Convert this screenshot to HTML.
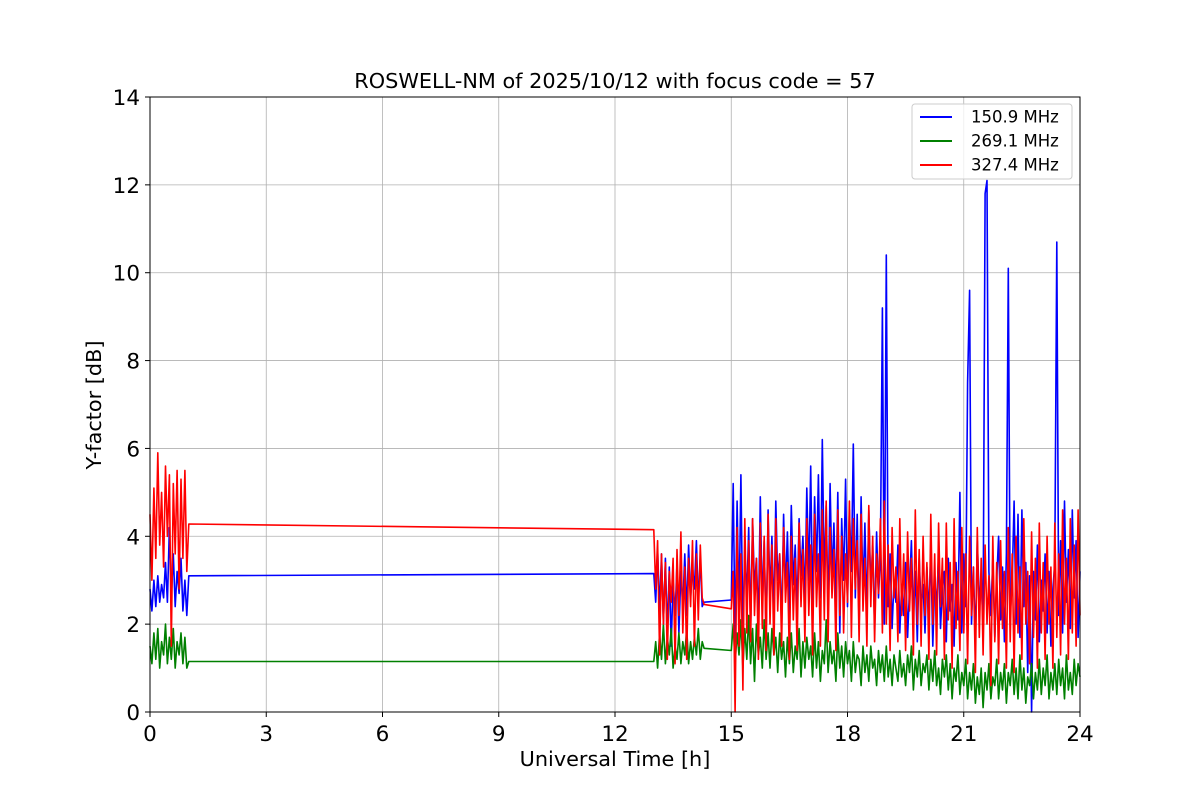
<!DOCTYPE html>
<html><head><meta charset="utf-8"><style>
body{margin:0;background:#fff;font-family:"DejaVu Sans","Liberation Sans",sans-serif}
</style></head><body>
<svg id="chart" width="1200" height="800" xmlns="http://www.w3.org/2000/svg" font-family="DejaVu Sans, Liberation Sans, sans-serif">
<rect width="1200" height="800" fill="#fff"/>
<g id="grid"></g>
<g id="series"></g>
<rect x="150" y="97" width="930" height="615" fill="none" stroke="#000" stroke-width="1"/>
<g id="ticks"></g>
<text x="615" y="88" text-anchor="middle" font-size="20.8">ROSWELL-NM of 2025/10/12 with focus code = 57</text>
<text x="615" y="766" text-anchor="middle" font-size="20.8">Universal Time [h]</text>
<text transform="translate(101,405) rotate(-90)" text-anchor="middle" font-size="20.8">Y-factor [dB]</text>
<g>
<rect x="912" y="104" width="160" height="75" rx="3" fill="#fff" fill-opacity="0.8" stroke="#ccc"/>
<g><line x1="920" y1="117" x2="952" y2="117" stroke="blue" stroke-width="2"/><text x="971" y="122.5" font-size="16.5">150.9 MHz</text></g>
<g><line x1="920" y1="141" x2="952" y2="141" stroke="green" stroke-width="2"/><text x="971" y="146.5" font-size="16.5">269.1 MHz</text></g>
<g><line x1="920" y1="165" x2="952" y2="165" stroke="red" stroke-width="2"/><text x="971" y="170.5" font-size="16.5">327.4 MHz</text></g>
</g>
</svg>
<script>
const xTicks=[0,3,6,9,12,15,18,21,24];
const yTicks=[0,2,4,6,8,10,12,14];
const segStarts=[0,13,15];
const segStep=0.05;
const blueA=[2.8,2.3,3.0,2.4,3.1,2.5,2.9,2.6,3.4,2.5,4.2,2.6,3.6,2.4,3.2,2.7,3.5,2.3,3.0,2.2,3.1];
const greenA=[1.5,1.1,1.8,1.2,1.9,1.0,1.6,1.3,2.0,1.1,1.7,1.2,1.9,1.0,1.6,1.3,1.8,1.1,1.7,1.0,1.15];
const redA=[4.5,3.0,5.1,3.5,5.9,3.8,5.0,3.3,5.6,4.0,5.4,1.5,5.2,3.6,5.5,2.8,5.3,3.5,5.5,3.2,4.28];
const blueB=[3.15,2.5,3.7,2.3,3.6,2.0,3.5,1.8,3.3,1.5,3.0,2.2,3.4,1.8,3.2,2.4,3.6,2.2,3.8,2.6,3.3,2.8,3.9,2.5,3.5,2.4,2.5];
const greenB=[1.15,1.6,1.0,1.8,1.2,2.0,1.1,1.7,1.3,1.9,1.0,1.5,1.2,1.8,1.1,1.6,1.3,1.9,1.1,1.6,1.2,1.7,1.3,1.9,1.2,1.6,1.45];
const redB=[4.15,2.8,3.9,1.3,3.6,2.0,3.4,1.2,3.2,2.5,3.5,1.1,3.7,2.2,4.1,1.8,3.3,1.2,3.5,2.4,3.9,1.5,3.6,2.1,3.8,2.6,2.45];
const blueC=[2.55,5.2,1.6,4.8,2.2,5.4,1.8,3.7,2.6,4.2,
1.9,4.4,2.8,3.5,2.0,4.9,2.4,3.9,1.7,4.6,
2.6,4.0,2.1,4.8,3.0,3.6,1.9,4.5,2.7,4.1,
2.2,4.7,2.9,3.8,2.3,4.4,3.1,4.0,2.5,5.1,
3.0,5.6,2.4,4.9,3.2,5.4,2.6,6.2,3.0,4.7,
2.2,5.2,3.0,4.3,2.5,5.0,1.8,4.4,3.0,5.3,
2.4,4.6,3.2,6.1,2.6,4.5,1.9,4.9,2.7,4.3,
2.2,4.6,2.8,3.8,1.9,4.1,2.6,3.6,9.2,2.0,
10.4,2.4,3.6,1.9,3.0,2.5,3.8,1.8,2.9,2.2,
3.4,1.7,2.8,3.9,2.1,3.2,1.6,3.5,2.4,2.9,
1.8,3.3,2.2,3.7,1.5,3.0,2.4,3.6,1.9,2.8,
3.2,1.6,3.5,2.3,2.9,1.5,3.4,2.1,5.0,1.8,
3.6,2.4,7.5,9.6,2.0,3.3,1.6,3.9,2.5,3.0,
2.0,11.8,12.1,3.2,2.2,3.5,1.7,3.0,4.0,2.1,
3.3,1.6,3.6,10.1,2.2,3.0,4.8,2.0,4.5,1.7,
4.6,2.4,3.4,0.9,3.1,0.0,3.2,2.1,3.8,1.6,
3.0,2.3,3.6,1.8,3.2,1.5,2.8,3.4,10.7,2.2,
3.9,1.8,4.8,2.5,3.7,1.9,4.6,2.6,3.9,1.7,3.2];
const greenC=[1.4,2.0,1.1,1.8,1.3,2.1,1.0,1.9,1.2,2.2,
1.1,1.9,0.7,2.0,1.3,1.7,1.0,2.1,1.2,1.8,
1.0,1.9,1.3,1.7,0.9,1.8,1.2,1.6,0.8,1.7,
1.1,1.8,0.9,1.5,1.2,1.9,0.8,1.6,1.0,1.7,
1.2,1.5,0.8,1.8,1.0,1.6,0.7,1.4,1.1,2.1,
0.9,1.6,1.1,1.4,0.7,1.8,1.0,1.5,0.8,1.6,
1.1,1.4,0.7,1.6,0.9,1.3,1.2,0.6,1.5,0.9,
1.3,0.7,1.5,1.0,1.2,0.6,1.4,0.9,1.3,0.7,
1.5,0.8,1.2,0.6,1.3,1.0,0.7,1.4,0.8,1.1,
0.6,1.3,0.9,1.5,0.5,1.2,0.8,1.4,0.6,1.1,
0.9,1.3,0.5,1.2,0.7,1.4,0.6,1.0,0.4,1.2,
0.8,1.3,0.5,1.1,0.3,1.0,0.7,1.3,0.4,0.9,
0.6,1.2,0.3,0.9,0.5,1.1,0.2,0.8,0.4,1.0,
0.1,0.9,0.5,1.1,0.3,0.8,0.6,1.2,0.3,0.9,
0.5,1.1,0.2,0.9,0.6,1.2,0.4,1.0,0.3,1.3,
0.5,1.0,0.2,0.8,0.6,1.1,0.3,0.9,0.5,1.2,
0.4,1.0,0.6,1.3,0.3,0.9,0.5,1.1,0.4,1.2,
0.6,1.0,0.3,1.3,0.5,0.9,0.4,1.2,0.6,1.1,0.8];
const redC=[2.35,3.2,0.0,4.2,1.5,3.6,0.5,4.4,1.8,3.9,
1.6,4.4,2.2,3.5,1.2,4.3,1.9,4.0,1.4,4.5,
2.0,3.8,1.3,4.4,2.3,3.6,1.5,4.2,2.5,3.4,
1.2,4.0,2.1,3.5,1.4,4.3,2.4,3.7,1.6,4.4,
2.2,3.8,1.3,4.5,2.4,3.6,1.5,4.6,2.1,4.8,
1.6,4.2,2.6,3.7,1.4,4.6,2.2,4.0,1.8,3.6,
2.5,4.8,1.7,4.4,2.8,3.9,1.6,4.5,2.3,3.5,
1.5,4.7,2.4,4.0,1.6,3.6,2.7,4.4,1.8,4.8,
2.0,3.8,1.4,4.2,2.6,3.3,1.6,4.4,2.2,3.6,
1.4,4.1,2.3,3.5,1.3,4.6,2.0,3.7,1.5,4.0,
2.2,3.4,1.2,4.5,2.0,3.6,1.3,4.3,2.4,3.5,
1.2,4.3,2.1,3.4,1.0,4.4,1.9,3.2,1.4,4.2,
1.8,3.6,1.1,4.0,2.2,3.3,0.9,4.2,1.7,3.5,
1.3,3.8,2.0,3.1,0.6,4.0,1.6,3.4,1.1,3.9,
1.9,3.2,1.0,4.2,1.6,3.6,0.9,4.0,1.8,3.3,
1.2,4.4,2.0,3.2,1.1,4.1,1.7,3.5,1.0,4.3,
1.8,3.4,1.2,4.0,2.0,3.3,1.0,4.3,1.7,3.6,
1.3,4.6,2.0,3.5,1.2,4.4,1.8,3.8,1.5,4.6,2.2];

const NS='http://www.w3.org/2000/svg';
const X0=150,X1=1080,Y0=712,Y1=97;
function xs(t){return X0+(t/24)*(X1-X0);}
function ys(v){return Y0-(v/14)*(Y0-Y1);}
const grid=document.getElementById('grid'),ticks=document.getElementById('ticks'),series=document.getElementById('series');
xTicks.forEach(t=>{
 const l=document.createElementNS(NS,'line');
 
 
 l.setAttribute('x1',xs(t));l.setAttribute('x2',xs(t));l.setAttribute('y1',Y1);l.setAttribute('y2',Y0);
 l.setAttribute('stroke','#b0b0b0');l.setAttribute('stroke-width','0.8');grid.appendChild(l);
 const tk=document.createElementNS(NS,'line');
 
 
 tk.setAttribute('x1',xs(t));tk.setAttribute('x2',xs(t));tk.setAttribute('y1',Y0);tk.setAttribute('y2',Y0+5);tk.setAttribute('stroke','#000');ticks.appendChild(tk);
 const tx=document.createElementNS(NS,'text');
 
 
 tx.setAttribute('x',xs(t));tx.setAttribute('y',Y0+29);tx.setAttribute('text-anchor','middle');tx.setAttribute('font-size','21.5');tx.textContent=t;ticks.appendChild(tx);
});
yTicks.forEach(v=>{
 const l=document.createElementNS(NS,'line');
 
 
 l.setAttribute('x1',X0);l.setAttribute('x2',X1);l.setAttribute('y1',ys(v));l.setAttribute('y2',ys(v));
 l.setAttribute('stroke','#b0b0b0');l.setAttribute('stroke-width','0.8');grid.appendChild(l);
 const tk=document.createElementNS(NS,'line');
 
 
 tk.setAttribute('x1',X0-5);tk.setAttribute('x2',X0);tk.setAttribute('y1',ys(v));tk.setAttribute('y2',ys(v));tk.setAttribute('stroke','#000');ticks.appendChild(tk);
 const tx=document.createElementNS(NS,'text');
 
 
 tx.setAttribute('x',X0-10);tx.setAttribute('y',ys(v)+8);tx.setAttribute('text-anchor','end');tx.setAttribute('font-size','21.5');tx.textContent=v;ticks.appendChild(tx);
});
function draw(segs,color,name){
 let pts=[];
 segs.forEach((arr,si)=>{arr.forEach((v,i)=>{pts.push(xs(segStarts[si]+i*segStep).toFixed(1)+','+ys(v).toFixed(1));});});
 const p=document.createElementNS(NS,'polyline');
 
 
 p.setAttribute('points',pts.join(' '));p.setAttribute('fill','none');p.setAttribute('stroke',color);
 p.setAttribute('stroke-width','1.6');p.setAttribute('stroke-linejoin','round');series.appendChild(p);
}
draw([blueA,blueB,blueC],'blue','series-150-9-mhz');
draw([greenA,greenB,greenC],'green','series-269-1-mhz');
draw([redA,redB,redC],'red','series-327-4-mhz');
</script>
</body></html>
